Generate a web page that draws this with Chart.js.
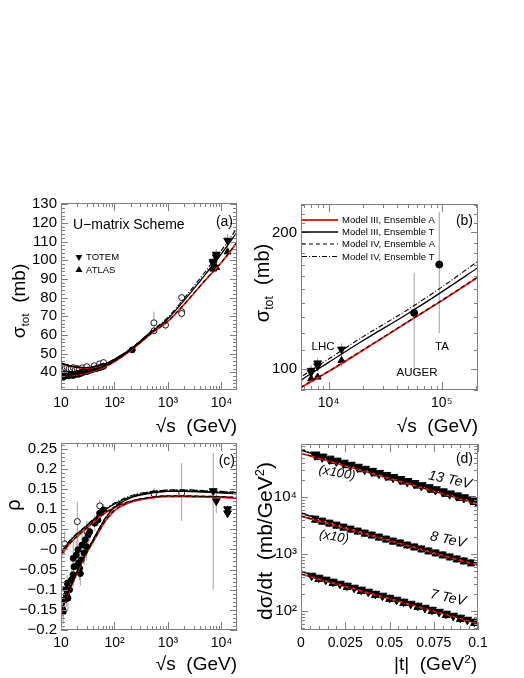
<!DOCTYPE html>
<html>
<head>
<meta charset="utf-8">
<script src="https://cdn.jsdelivr.net/npm/chart.js@4.4.0/dist/chart.umd.min.js"></script>
<style>
  html, body { margin: 0; padding: 0; background: #fff; }
  #wrap { position: relative; width: 524px; height: 678px; overflow: hidden;
          font-family: 'Liberation Sans', Arial, sans-serif; color: #000; }
  #wrap canvas { position: absolute; left: 0; top: 0; }
  .ttl { position: absolute; white-space: nowrap; font-size: 19px; line-height: 1; }
  .ttl.rot { transform: translate(-50%, -50%) rotate(-90deg); }
  .ttl.xt { transform: translate(-100%, -50%); }
  .ttl sub { font-size: 62%; vertical-align: -0.35em; }
  .ttl sup { font-size: 62%; vertical-align: 0.65em; }
</style>
</head>
<body>
<div id="wrap">
  <canvas id="cA" width="524" height="678"></canvas>
  <canvas id="cB" width="524" height="678"></canvas>
  <canvas id="cC" width="524" height="678"></canvas>
  <canvas id="cD" width="524" height="678"></canvas>

  <div class="ttl rot" style="left:20px;top:301px">σ<sub>tot</sub>&nbsp;&nbsp;(mb)</div>
  <div class="ttl xt" style="left:237px;top:425px">√s&nbsp;&nbsp;(GeV)</div>
  <div class="ttl rot" style="left:264px;top:283px;font-size:20px">σ<sub>tot</sub>&nbsp;&nbsp;(mb)</div>
  <div class="ttl xt" style="left:478px;top:425px">√s&nbsp;&nbsp;(GeV)</div>
  <div class="ttl rot" style="left:13px;top:505px;font-size:20px">ρ</div>
  <div class="ttl xt" style="left:237px;top:663px">√s&nbsp;&nbsp;(GeV)</div>
  <div class="ttl rot" style="left:264px;top:541px;font-size:21px">dσ/dt&nbsp;&nbsp;(mb/GeV<sup>2</sup>)</div>
  <div class="ttl xt" style="left:477px;top:663px">|t|&nbsp;&nbsp;(GeV<sup>2</sup>)</div>
</div>

<script>
const FONT = "'Liberation Sans', 'DejaVu Sans', Arial, sans-serif";
const W = 524, H = 678;

// ---------- model curves: sigma_tot, pp (panels a, b)
const sGrid = [10, 15, 20, 30, 50, 70, 100, 200, 500, 1000, 2000, 5000, 10000, 20000, 50000, 100000, 210000];
const sigPP_IIIA = [38.3, 38.3, 38.7, 39.6, 41.6, 43.3, 45.7, 51.7, 61.0, 67.3, 76.3, 89.3, 98.8, 110.0, 127.0, 141.5, 159.5];
const sigPP_IIIT = [38.5, 38.5, 39.0, 40.0, 42.0, 43.8, 46.2, 52.1, 61.8, 68.7, 78.5, 92.5, 103.5, 115.5, 132.5, 148.0, 167.5];
const sigPP_IVA  = [38.5, 38.5, 38.9, 39.8, 41.8, 43.5, 45.9, 51.9, 61.2, 67.5, 76.5, 89.5, 99.0, 110.2, 127.2, 141.8, 159.8];
const sigPP_IVT  = [38.6, 38.6, 39.1, 40.1, 42.1, 44.0, 46.4, 52.4, 62.3, 69.5, 79.6, 94.0, 105.3, 117.8, 135.2, 151.6, 173.0];
// sigma_tot, pbar-p (low energy part)
const sGridPB = [10, 15, 20, 30, 50, 70, 100, 200, 500];
const sigPB_IIIA = [44.5, 43.1, 42.5, 42.2, 43.1, 44.4, 46.6, 52.0, 61.1];
const sigPB_IIIT = [44.8, 43.4, 42.8, 42.5, 43.4, 44.8, 47.0, 52.4, 61.9];
const sigPB_IVA  = [44.6, 43.2, 42.6, 42.3, 43.2, 44.5, 46.7, 52.1, 61.3];
const sigPB_IVT  = [44.9, 43.5, 42.9, 42.6, 43.5, 44.9, 47.1, 52.6, 62.3];

// ---------- model curves: rho (panel c)
const rGrid = [10, 12, 15, 20, 25, 30, 40, 50, 70, 100, 200, 500, 1000, 2000, 5000, 10000, 20000];
const rhoPP_IIIA = [-0.158, -0.128, -0.096, -0.058, -0.031, -0.010, 0.019, 0.042, 0.073, 0.096, 0.117, 0.128, 0.131, 0.131, 0.130, 0.129, 0.127];
const rhoPP_IIIT = [-0.155, -0.125, -0.093, -0.055, -0.027, -0.006, 0.024, 0.048, 0.080, 0.104, 0.128, 0.140, 0.144, 0.144, 0.142, 0.140, 0.138];
const rhoPP_IVA  = [-0.157, -0.127, -0.095, -0.057, -0.030, -0.009, 0.020, 0.043, 0.074, 0.097, 0.118, 0.129, 0.132, 0.132, 0.131, 0.130, 0.128];
const rhoPP_IVT  = [-0.154, -0.124, -0.092, -0.054, -0.026, -0.005, 0.025, 0.049, 0.082, 0.106, 0.131, 0.143, 0.147, 0.147, 0.145, 0.143, 0.141];
const rhoPB_IIIA = [-0.015, 0.000, 0.016, 0.032, 0.043, 0.052, 0.067, 0.078, 0.092, 0.104, 0.119, 0.129, 0.132, 0.132, 0.131, 0.130, 0.128];
const rhoPB_IIIT = [-0.008, 0.006, 0.022, 0.038, 0.049, 0.058, 0.073, 0.085, 0.100, 0.113, 0.130, 0.141, 0.144, 0.145, 0.143, 0.141, 0.139];
const rhoPB_IVA  = [-0.014, 0.001, 0.017, 0.033, 0.044, 0.053, 0.068, 0.079, 0.093, 0.105, 0.120, 0.130, 0.133, 0.133, 0.132, 0.131, 0.129];
const rhoPB_IVT  = [-0.006, 0.008, 0.024, 0.040, 0.051, 0.060, 0.075, 0.087, 0.102, 0.115, 0.133, 0.144, 0.147, 0.148, 0.146, 0.144, 0.142];

// ---------- model curves: dsigma/dt (panel d), already scaled x100 / x10 / x1
const tGrid = [0, 0.05, 0.1];
const ds13_IIIA = [59500, 21500, 7600],  ds13_IIIT = [67000, 23700, 8450];
const ds13_IVA  = [60000, 21700, 7650],  ds13_IVT  = [69000, 24300, 8600];
const ds8_IIIA  = [4650, 1750, 640],     ds8_IIIT  = [5200, 1880, 680];
const ds8_IVA   = [4700, 1760, 645],     ds8_IVT   = [5350, 1920, 690];
const ds7_IIIA  = [445, 165, 60.5],      ds7_IIIT  = [495, 177, 63.5];
const ds7_IVA   = [448, 166, 61],        ds7_IVT   = [510, 181, 64.5];

// ---------- data, panel a: sigma_tot
const ppS = [10.0, 10.4, 10.7, 11.0, 11.5, 11.9, 12.5, 13.0, 13.8, 14.5, 15.4, 16.2, 17.0, 18.0, 19.4, 20.5,
             21.7, 23.0, 23.5, 24.5, 26.0, 27.4, 30.6, 33.0, 38.0, 44.7, 48.0, 52.8, 57.0, 62.5, 215];
const ppSig = [37.8, 38.6, 37.3, 38.3, 38.9, 37.9, 38.4, 38.7, 38.1, 38.9, 38.5, 38.8, 38.3, 39.0, 38.9, 39.3,
               39.0, 39.5, 39.8, 39.6, 40.1, 40.3, 40.4, 40.8, 41.3, 41.9, 42.2, 42.5, 42.9, 43.2, 52.0];
const pbS = [10.1, 11.0, 12.0, 13.0, 14.2, 15.5, 17.0, 18.5, 20.0, 22.0, 25.0, 30.4, 42.0, 52.6, 62.3, 546, 546, 900, 1800, 1800, 1800];
const pbSig = [43.5, 42.8, 42.3, 42.6, 41.8, 41.9, 42.5, 41.4, 42.0, 41.6, 42.4, 43.0, 43.5, 44.5, 45.2, 66.5, 62.2, 65.3, 80.0, 72.5, 71.5];
const pbSigErr = [0.8, 0.8, 0.7, 0.7, 0.6, 0.6, 0.6, 0.5, 0.5, 0.5, 0.5, 0.7, 0.8, 0.8, 0.9, 6.0, 1.5, 2.3, 2.2, 1.5, 2.4];
const totemS = [7000, 7000, 8000, 8000, 13000];
const totemSig = [98.3, 99.3, 101.7, 103.1, 110.6];
const totemErr = [2.8, 2.8, 2.9, 2.9, 3.4];
const atlasS = [7000, 8000, 13000];
const atlasSig = [95.3, 96.1, 104.5];
const atlasErr = [1.3, 1.1, 3.1];

// ---------- data, panel b: cosmic rays
const cosmicS = [57000, 95000];          // AUGER, TA
const cosmicSig = [133, 170];
const cosmicLo = [98, 120];
const cosmicHi = [163, 222];

// ---------- data, panel c: rho
const ppRhoS = [10.9, 11.0, 11.7, 12.3, 12.6, 13.1, 13.5, 14.5, 15.6, 16.8, 16.9, 17.5, 19.3, 20.7,
                21.3, 22.3, 23.0, 23.9, 24.7, 26.9, 28.4, 29.7, 32.1, 34.5, 42.7, 49.0, 52.8, 62.5];
const ppRho = [-0.150, -0.155, -0.125, -0.098, -0.113, -0.084, -0.121, -0.100, -0.076, -0.063, -0.022, -0.043, -0.014, -0.001,
               -0.034, -0.047, -0.060, -0.026, 0.011, -0.009, 0.024, 0.007, 0.036, 0.044, 0.065, 0.073, 0.090, 0.098];
const ppRhoErr = [0.02, 0.03, 0.025, 0.02, 0.03, 0.02, 0.03, 0.025, 0.03, 0.03, 0.04, 0.03, 0.035, 0.04,
                  0.03, 0.03, 0.03, 0.035, 0.04, 0.03, 0.03, 0.035, 0.03, 0.025, 0.02, 0.015, 0.02, 0.015];
const pbRhoS = [11.7, 20.2, 30.4, 53.0, 546, 1800];
const pbRho = [0.014, 0.069, 0.045, 0.108, 0.138, 0.140];
const pbRhoLo = [-0.015, 0.020, 0.020, 0.093, 0.123, 0.071];
const pbRhoHi = [0.045, 0.118, 0.070, 0.123, 0.153, 0.214];
const totemRhoS = [7000, 8000, 13000, 13000];
const totemRho = [0.145, 0.120, 0.100, 0.090];
const totemRhoLo = [-0.100, 0.090, 0.090, 0.080];
const totemRhoHi = [0.240, 0.150, 0.110, 0.100];

// ---------- data, panel d: dsigma/dt
const t13 = [0.008, 0.012, 0.016, 0.020, 0.024, 0.028, 0.032, 0.036, 0.040, 0.044, 0.048, 0.052,
             0.056, 0.060, 0.064, 0.068, 0.072, 0.076, 0.080, 0.084, 0.088, 0.092, 0.096, 0.099];
const totem13 = [56000, 51500, 47400, 43700, 40200, 37000, 34100, 31400, 28900, 26600, 24500, 22600,
                 20800, 19100, 17600, 16200, 14900, 13700, 12600, 11600, 10700, 9900, 9100, 8550];
const t13a = [0.010, 0.018, 0.026, 0.034, 0.042, 0.050, 0.058, 0.066, 0.074, 0.082, 0.090, 0.098];
const atlas13 = [50500, 42900, 36300, 30800, 26100, 22100, 18750, 15900, 13470, 11410, 9680, 8200];
const t8 = [0.008, 0.012, 0.016, 0.020, 0.024, 0.028, 0.032, 0.036, 0.040, 0.044, 0.048, 0.052,
            0.056, 0.060, 0.064, 0.068, 0.072, 0.076, 0.080, 0.084, 0.088, 0.092, 0.096];
const totem8 = [4280, 3950, 3640, 3360, 3100, 2860, 2640, 2430, 2245, 2070, 1910, 1760,
                1630, 1500, 1390, 1280, 1180, 1090, 1005, 927, 855, 789, 728];
const atlas8 = [3980, 3670, 3390, 3125, 2880, 2660, 2455, 2260, 2090, 1925, 1775, 1635,
                1515, 1395, 1290, 1190, 1100, 1015, 935, 862, 795, 734, 677];
const t7 = [0.006, 0.010, 0.014, 0.018, 0.022, 0.026, 0.030, 0.034, 0.038, 0.042, 0.046, 0.050,
            0.054, 0.058, 0.062, 0.066, 0.070, 0.074, 0.078, 0.082, 0.086, 0.090, 0.094, 0.098];
const totem7 = [418, 385, 356, 328, 302, 279, 257, 237, 219, 201, 186, 171,
                158, 146, 134, 124, 114, 105, 97, 89.6, 82.6, 76.2, 70.3, 64.9];
const t7a = [0.010, 0.018, 0.026, 0.034, 0.042, 0.050, 0.058, 0.066, 0.074, 0.082, 0.090, 0.098];
const atlas7 = [362, 308, 262, 223, 189, 161, 137, 117, 99, 84, 72, 61];

// ---------- tick labels
const sqrtsMajor = new Map([[10, '10'], [100, '10²'], [1000, '10³'], [10000, '10⁴']]);
const sqrtsMajorB = new Map([[10000, '10⁴'], [100000, '10⁵']]);
const dsMajor = new Map([[100, '10²'], [1000, '10³'], [10000, '10⁴']]);
const sigTickVals = [40, 50, 60, 70, 80, 90, 100, 110, 120, 130];
const sigTickTxt = ['40', '50', '60', '70', '80', '90', '100', '110', '120', '130'];
const sigTickValsB = [100, 200];
const sigTickTxtB = ['100', '200'];
const rhoTickVals = [-0.2, -0.15, -0.1, -0.05, 0, 0.05, 0.1, 0.15, 0.2, 0.25];
const rhoTickTxt = ['−0.2', '−0.15', '−0.1', '−0.05', '−0', '0.05', '0.1', '0.15', '0.2', '0.25'];
const tTickVals = [0, 0.025, 0.05, 0.075, 0.1];
const tTickTxt = ['0', '0.025', '0.05', '0.075', '0.1'];

const STYLE = {
  IIIA: { color: 'rgb(235,35,35)', width: 1.8, dash: [], label: 'Model III, Ensemble A' },
  IIIT: { color: '#000', width: 1.3, dash: [], label: 'Model III, Ensemble T' },
  IVA:  { color: '#000', width: 1.1, dash: [4, 3], label: 'Model IV, Ensemble A' },
  IVT:  { color: '#000', width: 1.1, dash: [5, 2, 1, 2], label: 'Model IV, Ensemble T' },
};
const MODEL_ORDER = { IVT: 1, IVA: 2, IIIT: 3, IIIA: 4 };

// ---------- helpers
function pts(xs, ys) { return xs.map((x, i) => ({ x, y: ys[i] })); }

function barData(xs, lo, hi) {
  const d = [];
  xs.forEach((x, i) => { d.push({ x, y: lo[i] }, { x, y: hi[i] }, { x, y: null }); });
  return d;
}

function curve(xs, ys, key) {
  const st = STYLE[key];
  return {
    data: pts(xs, ys), showLine: true, pointRadius: 0, fill: false,
    borderColor: st.color, borderWidth: st.width, borderDash: st.dash,
    cubicInterpolationMode: 'monotone', order: MODEL_ORDER[key],
  };
}

function marks(xs, ys, kind, r) {
  const ds = { data: pts(xs, ys), showLine: false, order: 10, pointRadius: r, pointHoverRadius: r,
               pointBackgroundColor: '#000', pointBorderColor: '#000', pointBorderWidth: 1 };
  if (kind === 'open') { ds.pointStyle = 'circle'; ds.pointBackgroundColor = '#fff'; ds.pointBorderWidth = 0.9; }
  else if (kind === 'dot') { ds.pointStyle = 'circle'; }
  else if (kind === 'down') { ds.pointStyle = 'triangle'; ds.pointRotation = 180; }
  else { ds.pointStyle = 'triangle'; }
  return ds;
}

function bars(xs, lo, hi) {
  return { data: barData(xs, lo, hi), showLine: true, spanGaps: false, pointRadius: 0,
           borderColor: '#a0a0a0', borderWidth: 1, order: 20 };
}

function symBars(xs, ys, err) {
  return bars(xs, ys.map((v, i) => v - err[i]), ys.map((v, i) => v + err[i]));
}

function logTicks(min, max, labels) {
  const out = [];
  for (let e = Math.floor(Math.log10(min)); e <= Math.ceil(Math.log10(max)); e++) {
    for (let k = 1; k < 10; k++) {
      const v = k * Math.pow(10, e);
      if (v >= min * 0.999 && v <= max * 1.001) out.push({ value: v, txt: labels.get(v) || '' });
    }
  }
  return out;
}

function linTicks(min, max, step, majors, txt) {
  const out = [];
  const n0 = Math.ceil(min / step - 1e-6), n1 = Math.floor(max / step + 1e-6);
  for (let n = n0; n <= n1; n++) {
    const v = n * step;
    const j = majors.findIndex(m => Math.abs(m - v) < step * 1e-3);
    out.push({ value: v, txt: j >= 0 ? txt[j] : '' });
  }
  return out;
}

function axisCfg(ax, fit) {
  return {
    type: ax.type, min: ax.min, max: ax.max, bounds: 'data',
    afterBuildTicks: s => { s.ticks = ax.ticks.map(t => ({ value: t.value, txt: t.txt })); },
    afterFit: fit,
    grid: { display: false, drawTicks: false },
    border: { display: false },
    ticks: {
      autoSkip: false, maxRotation: 0, minRotation: 0, padding: ax.pad, color: '#000',
      font: { family: FONT, size: ax.size },
      callback: (v, i, ts) => ts[i].txt,
    },
  };
}

// frame plus inward ticks on all four sides
const frameTicks = {
  id: 'frameTicks',
  afterDraw(chart) {
    const { ctx, chartArea: a } = chart;
    const xs = chart.scales.x, ys = chart.scales.y;
    ctx.save();
    ctx.strokeStyle = '#808080';
    ctx.lineWidth = 1;
    ctx.beginPath();
    xs.ticks.forEach(t => {
      const p = Math.round(xs.getPixelForValue(t.value)) + 0.5;
      if (p < a.left - 1 || p > a.right + 1) return;
      const len = t.txt ? 8 : 4;
      ctx.moveTo(p, a.bottom); ctx.lineTo(p, a.bottom - len);
      ctx.moveTo(p, a.top); ctx.lineTo(p, a.top + len);
    });
    ys.ticks.forEach(t => {
      const p = Math.round(ys.getPixelForValue(t.value)) + 0.5;
      if (p < a.top - 1 || p > a.bottom + 1) return;
      const len = t.txt ? 7 : 4;
      ctx.moveTo(a.left, p); ctx.lineTo(a.left + len, p);
      ctx.moveTo(a.right, p); ctx.lineTo(a.right - len, p);
    });
    ctx.stroke();
    ctx.strokeRect(Math.round(a.left) + 0.5, Math.round(a.top) + 0.5,
                   Math.round(a.right - a.left) - 1, Math.round(a.bottom - a.top) - 1);
    ctx.restore();
  }
};

function notesPlugin(items) {
  return {
    id: 'notes',
    afterDraw(chart) {
      const ctx = chart.ctx;
      items.forEach(it => {
        ctx.save();
        ctx.translate(it.x, it.y);
        if (it.rot) ctx.rotate(it.rot * Math.PI / 180);
        if (it.line) {
          const st = STYLE[it.line];
          ctx.strokeStyle = st.color;
          ctx.lineWidth = it.line === 'IIIA' ? 2.2 : st.width;
          ctx.setLineDash(st.dash);
          ctx.beginPath(); ctx.moveTo(0, 0); ctx.lineTo(it.len, 0); ctx.stroke();
        } else if (it.marker) {
          const r = it.r, s = it.marker === 'down' ? -1 : 1;
          ctx.fillStyle = '#000';
          ctx.beginPath();
          ctx.moveTo(0, -s * r);
          ctx.lineTo(r * 0.87, s * r * 0.5);
          ctx.lineTo(-r * 0.87, s * r * 0.5);
          ctx.closePath(); ctx.fill();
        } else {
          ctx.fillStyle = '#000';
          ctx.font = (it.italic ? 'italic ' : '') + it.size + 'px ' + FONT;
          ctx.textAlign = it.align || 'left';
          ctx.textBaseline = 'middle';
          ctx.fillText(it.text, 0, 0);
        }
        ctx.restore();
      });
    }
  };
}

function makeChart(id, box, xAx, yAx, datasets, notes) {
  return new Chart(document.getElementById(id), {
    type: 'scatter',
    data: { datasets },
    options: {
      responsive: false, animation: false, devicePixelRatio: 1, events: [],
      layout: { padding: { left: 0, top: box.top, right: W - box.right, bottom: 0 } },
      plugins: { legend: { display: false }, tooltip: { enabled: false } },
      scales: {
        x: axisCfg(xAx, s => { s.height = H - box.bottom; }),
        y: axisCfg(yAx, s => { s.width = box.left; }),
      },
    },
    plugins: [frameTicks, notesPlugin(notes)],
  });
}

function modelSet(grid, arrs) {
  return ['IIIA', 'IIIT', 'IVA', 'IVT'].map(k => curve(grid, arrs[k], k));
}

// ---------- panel (a)
makeChart('cA', { left: 61, top: 203, right: 237, bottom: 390 },
  { type: 'logarithmic', min: 10, max: 19500, ticks: logTicks(10, 19500, sqrtsMajor), pad: 5, size: 14 },
  { type: 'linear', min: 30.5, max: 130.7, ticks: linTicks(30.5, 130.7, 2, sigTickVals, sigTickTxt), pad: 4, size: 15 },
  [
    symBars(pbS, pbSig, pbSigErr),
    symBars(totemS, totemSig, totemErr),
    symBars(atlasS, atlasSig, atlasErr),
    marks(ppS, ppSig, 'dot', 3),
    marks(pbS, pbSig, 'open', 3),
    marks(totemS, totemSig, 'down', 4.5),
    marks(atlasS, atlasSig, 'up', 4),
    ...modelSet(sGrid, { IIIA: sigPP_IIIA, IIIT: sigPP_IIIT, IVA: sigPP_IVA, IVT: sigPP_IVT }),
    ...modelSet(sGridPB, { IIIA: sigPB_IIIA, IIIT: sigPB_IIIT, IVA: sigPB_IVA, IVT: sigPB_IVT }),
  ],
  [
    { text: 'U−matrix Scheme', x: 73, y: 225, size: 14 },
    { text: '(a)', x: 233, y: 222, size: 14, align: 'right' },
    { marker: 'down', x: 79, y: 257, r: 4 },
    { text: 'TOTEM', x: 86, y: 257.5, size: 9.5 },
    { marker: 'up', x: 79, y: 270, r: 4 },
    { text: 'ATLAS', x: 86, y: 270.5, size: 9.5 },
  ]);

// ---------- panel (b)
makeChart('cB', { left: 301, top: 204, right: 478, bottom: 390 },
  { type: 'logarithmic', min: 5700, max: 209000, ticks: logTicks(5700, 209000, sqrtsMajorB), pad: 5, size: 14 },
  { type: 'logarithmic', min: 90, max: 231, ticks: linTicks(90, 231, 10, sigTickValsB, sigTickTxtB), pad: 4, size: 15 },
  [
    bars(cosmicS, cosmicLo, cosmicHi),
    symBars(totemS, totemSig, totemErr),
    symBars(atlasS, atlasSig, atlasErr),
    marks(cosmicS, cosmicSig, 'dot', 3.5),
    marks(totemS, totemSig, 'down', 4.5),
    marks(atlasS, atlasSig, 'up', 4),
    ...modelSet(sGrid, { IIIA: sigPP_IIIA, IIIT: sigPP_IIIT, IVA: sigPP_IVA, IVT: sigPP_IVT }),
  ],
  [
    { text: '(b)', x: 473, y: 221, size: 14, align: 'right' },
    { line: 'IIIA', x: 302, y: 220, len: 36 },
    { text: STYLE.IIIA.label, x: 342, y: 220.5, size: 9.5 },
    { line: 'IIIT', x: 302, y: 232, len: 36 },
    { text: STYLE.IIIT.label, x: 342, y: 232.5, size: 9.5 },
    { line: 'IVA', x: 302, y: 244, len: 36 },
    { text: STYLE.IVA.label, x: 342, y: 244.5, size: 9.5 },
    { line: 'IVT', x: 302, y: 256.5, len: 36 },
    { text: STYLE.IVT.label, x: 342, y: 257, size: 9.5 },
    { text: 'LHC', x: 323, y: 347, size: 11.5, align: 'center' },
    { text: 'AUGER', x: 417, y: 373, size: 11.5, align: 'center' },
    { text: 'TA', x: 442, y: 347, size: 11.5, align: 'center' },
  ]);

// ---------- panel (c)
makeChart('cC', { left: 61, top: 443, right: 237, bottom: 630 },
  { type: 'logarithmic', min: 10, max: 19500, ticks: logTicks(10, 19500, sqrtsMajor), pad: 5, size: 14 },
  { type: 'linear', min: -0.2, max: 0.264, ticks: linTicks(-0.2, 0.264, 0.01, rhoTickVals, rhoTickTxt), pad: 4, size: 15 },
  [
    symBars(ppRhoS, ppRho, ppRhoErr),
    bars(pbRhoS, pbRhoLo, pbRhoHi),
    bars(totemRhoS, totemRhoLo, totemRhoHi),
    marks(ppRhoS, ppRho, 'dot', 3),
    marks(pbRhoS, pbRho, 'open', 3),
    marks(totemRhoS, totemRho, 'down', 4.5),
    ...modelSet(rGrid, { IIIA: rhoPP_IIIA, IIIT: rhoPP_IIIT, IVA: rhoPP_IVA, IVT: rhoPP_IVT }),
    ...modelSet(rGrid, { IIIA: rhoPB_IIIA, IIIT: rhoPB_IIIT, IVA: rhoPB_IVA, IVT: rhoPB_IVT }),
  ],
  [
    { text: '(c)', x: 235, y: 461, size: 14, align: 'right' },
  ]);

// ---------- panel (d)
makeChart('cD', { left: 301, top: 444, right: 478, bottom: 630 },
  { type: 'linear', min: 0, max: 0.1, ticks: linTicks(0, 0.1, 0.005, tTickVals, tTickTxt), pad: 5, size: 14 },
  { type: 'logarithmic', min: 46.4, max: 86600, ticks: logTicks(46.4, 86600, dsMajor), pad: 4, size: 15 },
  [
    marks(t13a, atlas13, 'up', 4.5),
    marks(t13, totem13, 'down', 5.5),
    marks(t8, atlas8, 'up', 4.2),
    marks(t8, totem8, 'down', 4.2),
    marks(t7a, atlas7, 'up', 4.5),
    marks(t7, totem7, 'down', 5),
    ...modelSet(tGrid, { IIIA: ds13_IIIA, IIIT: ds13_IIIT, IVA: ds13_IVA, IVT: ds13_IVT }),
    ...modelSet(tGrid, { IIIA: ds8_IIIA, IIIT: ds8_IIIT, IVA: ds8_IVA, IVT: ds8_IVT }),
    ...modelSet(tGrid, { IIIA: ds7_IIIA, IIIT: ds7_IIIT, IVA: ds7_IVA, IVT: ds7_IVT }),
  ],
  [
    { text: '(d)', x: 473, y: 459, size: 14, align: 'right' },
    { text: '(x100)', x: 337, y: 473, size: 13, italic: true, align: 'center', rot: 10 },
    { text: '13 TeV', x: 450, y: 480, size: 14, italic: true, align: 'center', rot: 12 },
    { text: '(x10)', x: 334, y: 537, size: 13, italic: true, align: 'center', rot: 10 },
    { text: '8 TeV', x: 448, y: 540, size: 14, italic: true, align: 'center', rot: 12 },
    { text: '7 TeV', x: 448, y: 598, size: 14, italic: true, align: 'center', rot: 12 },
  ]);
</script>
</body>
</html>
